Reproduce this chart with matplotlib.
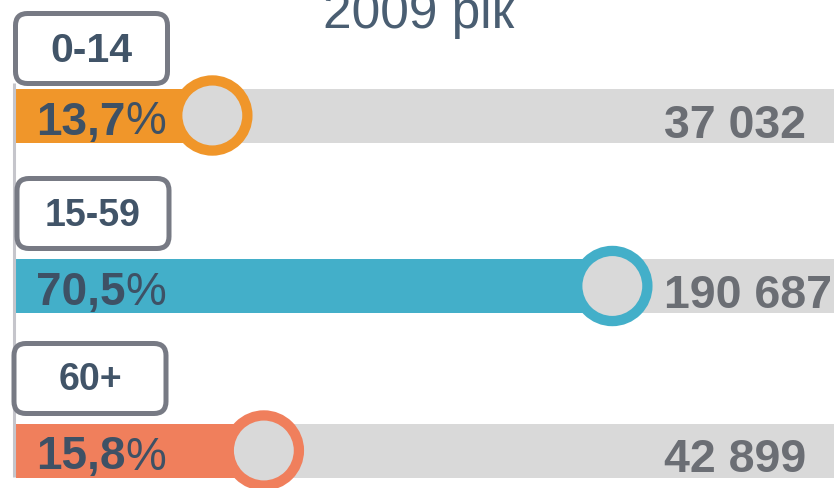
import matplotlib
matplotlib.use('Agg')
from matplotlib import pyplot as plt
from matplotlib.patches import FancyBboxPatch

plt.rcParams['font.family'] = ['Liberation Sans', 'DejaVu Sans']

# dane wykresu
title = '2009 рік'
groups = ['0-14', '15-59', '60+']
shares = ['13,7', '70,5', '15,8']
counts = ['37 032', '190 687', '42 899']
# displayed bar length, in % of the grey track
bar_len = [24.0, 72.9, 30.3]
colors = ['#f0962a', '#43afc9', '#f07f5c']

W, H = 837, 489
fig = plt.figure(figsize=(W / 100, H / 100), dpi=100)

# main axes: x in % of the track, y in pixels
track_left, track_right = 16, 834
k = (track_right - track_left) / 100.0
ax = fig.add_axes([0, 0, 1, 1])
ax.set_xlim(-track_left / k, (W - track_left) / k)
ax.set_ylim(H, 0)
ax.axis('off')

row_y = [116.5, 287, 451.5]
bar_h = 54

ax.barh(row_y, [100] * 3, height=bar_h, left=0, color='#d9d9d9', zorder=1)
ax.barh(row_y, bar_len, height=bar_h, left=0, color=colors, zorder=2)
ax.scatter(bar_len, row_y, s=50.5 ** 2, facecolor='#d9d9d9',
           edgecolor=colors, linewidths=7.4, zorder=3)

# overlay axes in pixel units for boxes and texts
axp = fig.add_axes([0, 0, 1, 1])
axp.set_xlim(0, W)
axp.set_ylim(H, 0)
axp.axis('off')
axp.patch.set_alpha(0)

axp.plot([14.5, 14.5], [84, 478], color='#c5c5cb', lw=2.2, zorder=0,
         solid_capstyle='butt')

axp.text(419, 28, title, ha='center', va='baseline', fontsize=37,
         color='#4a5e72')

box_y = [14.5, 179.5, 344.5]
box_x = [15.5, 17, 14]
label_size = [29.5, 27, 27]
for i, g in enumerate(groups):
    box = FancyBboxPatch((box_x[i], box_y[i]), 152, 70,
                         boxstyle='round,pad=0,rounding_size=12',
                         facecolor='white', edgecolor='#777a84', lw=3.6,
                         zorder=2)
    axp.add_patch(box)
    axp.text(box_x[i] + 76, box_y[i] + 36, g, ha='center', va='center',
             fontsize=label_size[i], fontweight='bold', color='#415468',
             zorder=3)

    y = row_y[i]
    t = axp.text(36, y + 18, shares[i], ha='left', va='baseline',
                 fontsize=33, fontweight='bold', color='#3e5165', zorder=4)
    axp.annotate('%', xy=(1, 0), xycoords=t, ha='left', va='bottom',
                 fontsize=33, color='#3e5165', zorder=4)
    axp.text(664, y + 21, counts[i], ha='left', va='baseline',
             fontsize=33.5, fontweight='bold', color='#6b6e74', zorder=4)

fig.savefig('out.png', dpi=100)
